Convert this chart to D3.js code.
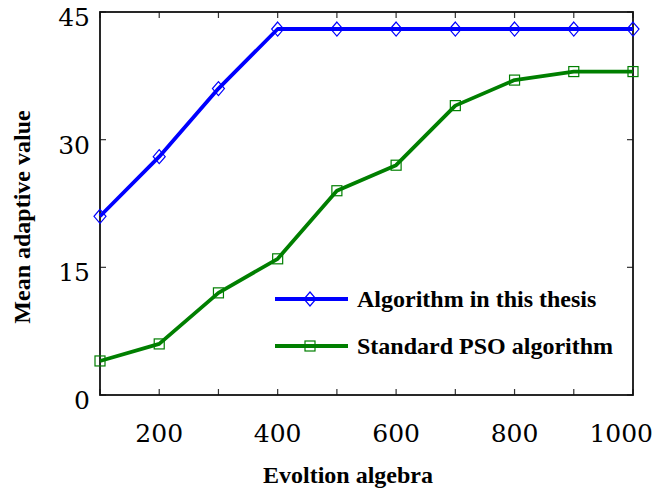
<!DOCTYPE html>
<html>
<head>
<meta charset="utf-8">
<title>Mean adaptive value</title>
<style>
  body { margin: 0; background: #fff; }
  svg text { font-family: "Liberation Serif", "DejaVu Serif", serif; }
</style>
</head>
<body>
<script src="https://cdn.jsdelivr.net/npm/d3@7"></script>
<script>
// generation values
var generations = [100, 200, 300, 400, 500, 600, 700, 800, 900, 1000];
// series
var thesisValues = [21, 28, 36, 43, 43, 43, 43, 43, 43, 43];
var psoValues = [4, 6, 12, 16, 24, 27, 34, 37, 38, 38];
var seriesNames = ["Algorithm in this thesis", "Standard PSO algorithm"];
var seriesColors = ["#0000ff", "#007f00"];
// ticks
var xTickValues = [100, 200, 300, 400, 500, 600, 700, 800, 900, 1000];
var xTickLabels = [200, 400, 600, 800, 1000];
var yTickValues = [0, 15, 30, 45];

function main() {
    var width = 655, height = 492;
    var left = 100, right = 633, top = 12, bottom = 395;

    var svg = d3.select("body").append("svg")
        .attr("width", width)
        .attr("height", height);

    var x = d3.scaleLinear().domain([100, 1000]).range([left, right]);
    var y = d3.scaleLinear().domain([0, 45]).range([bottom, top]);

    // ticks inside the box
    var g = svg.append("g");
    xTickValues.forEach(function (v) {
        g.append("line").attr("x1", x(v)).attr("x2", x(v))
            .attr("y1", bottom).attr("y2", bottom - 6)
            .attr("stroke", "#333").attr("stroke-width", 1.2);
        g.append("line").attr("x1", x(v)).attr("x2", x(v))
            .attr("y1", top).attr("y2", top + 6)
            .attr("stroke", "#333").attr("stroke-width", 1.2);
    });
    yTickValues.forEach(function (v) {
        g.append("line").attr("x1", left).attr("x2", left + 6)
            .attr("y1", y(v)).attr("y2", y(v))
            .attr("stroke", "#333").attr("stroke-width", 1.2);
        g.append("line").attr("x1", right).attr("x2", right - 6)
            .attr("y1", y(v)).attr("y2", y(v))
            .attr("stroke", "#333").attr("stroke-width", 1.2);
    });

    // box
    svg.append("rect")
        .attr("x", left).attr("y", top)
        .attr("width", right - left).attr("height", bottom - top)
        .attr("fill", "none").attr("stroke", "#111").attr("stroke-width", 1.8);

    // tick labels (last one pulled in so it fits the page)
    svg.selectAll(".xl").data(xTickLabels).enter().append("text")
        .attr("x", function (d, i) { return i === xTickLabels.length - 1 ? 653 : x(d); })
        .attr("y", 442)
        .attr("text-anchor", function (d, i) { return i === xTickLabels.length - 1 ? "end" : "middle"; })
        .style("font-family", "'DejaVu Serif', serif")
        .style("font-size", "25px")
        .text(function (d) { return d; });
    svg.selectAll(".yl").data(yTickValues).enter().append("text")
        .attr("x", 90)
        .attr("y", function (d) { return y(d) + 14; })
        .attr("text-anchor", "end")
        .style("font-family", "'DejaVu Serif', serif")
        .style("font-size", "25px")
        .text(function (d) { return d; });

    // axis titles
    svg.append("text")
        .attr("x", 348).attr("y", 483)
        .attr("text-anchor", "middle")
        .style("font-size", "24px").style("font-weight", "bold")
        .text("Evoltion algebra");
    svg.append("text")
        .attr("transform", "translate(30,217) rotate(-90)")
        .attr("text-anchor", "middle")
        .style("font-size", "24px").style("font-weight", "bold")
        .text("Mean adaptive value");

    var line = d3.line()
        .x(function (d) { return x(d[0]); })
        .y(function (d) { return y(d[1]); });

    function drawSeries(vals, color, isDiamond) {
        var pts = generations.map(function (gv, i) { return [gv, vals[i]]; });
        svg.append("path").datum(pts)
            .attr("d", line)
            .attr("fill", "none").attr("stroke", color)
            .attr("stroke-width", 3.8).attr("stroke-linejoin", "round");
        pts.forEach(function (p) {
            drawMarker(x(p[0]), y(p[1]), color, isDiamond);
        });
    }

    function drawMarker(cx, cy, color, isDiamond) {
        if (isDiamond) {
            var p = d3.path();
            p.moveTo(cx, cy - 7);
            p.lineTo(cx + 6, cy);
            p.lineTo(cx, cy + 7);
            p.lineTo(cx - 6, cy);
            p.closePath();
            svg.append("path").attr("d", p.toString())
                .attr("fill", "none").attr("stroke", color).attr("stroke-width", 1.2);
        } else {
            svg.append("rect")
                .attr("x", cx - 5).attr("y", cy - 5)
                .attr("width", 10).attr("height", 10)
                .attr("fill", "none").attr("stroke", color).attr("stroke-width", 1.2);
        }
    }

    drawSeries(psoValues, seriesColors[1], false);
    drawSeries(thesisValues, seriesColors[0], true);

    // legend
    var legendY = [299, 346];
    seriesNames.forEach(function (name, i) {
        svg.append("line")
            .attr("x1", 275).attr("x2", 348)
            .attr("y1", legendY[i]).attr("y2", legendY[i])
            .attr("stroke", seriesColors[i]).attr("stroke-width", 3.8);
        drawMarker(310, legendY[i], seriesColors[i], i === 0);
        svg.append("text")
            .attr("x", 357).attr("y", legendY[i] + 8)
            .style("font-size", "24px").style("font-weight", "bold")
            .text(name);
    });
}

window.onload = function () {
    main();
};
</script>
</body>
</html>
